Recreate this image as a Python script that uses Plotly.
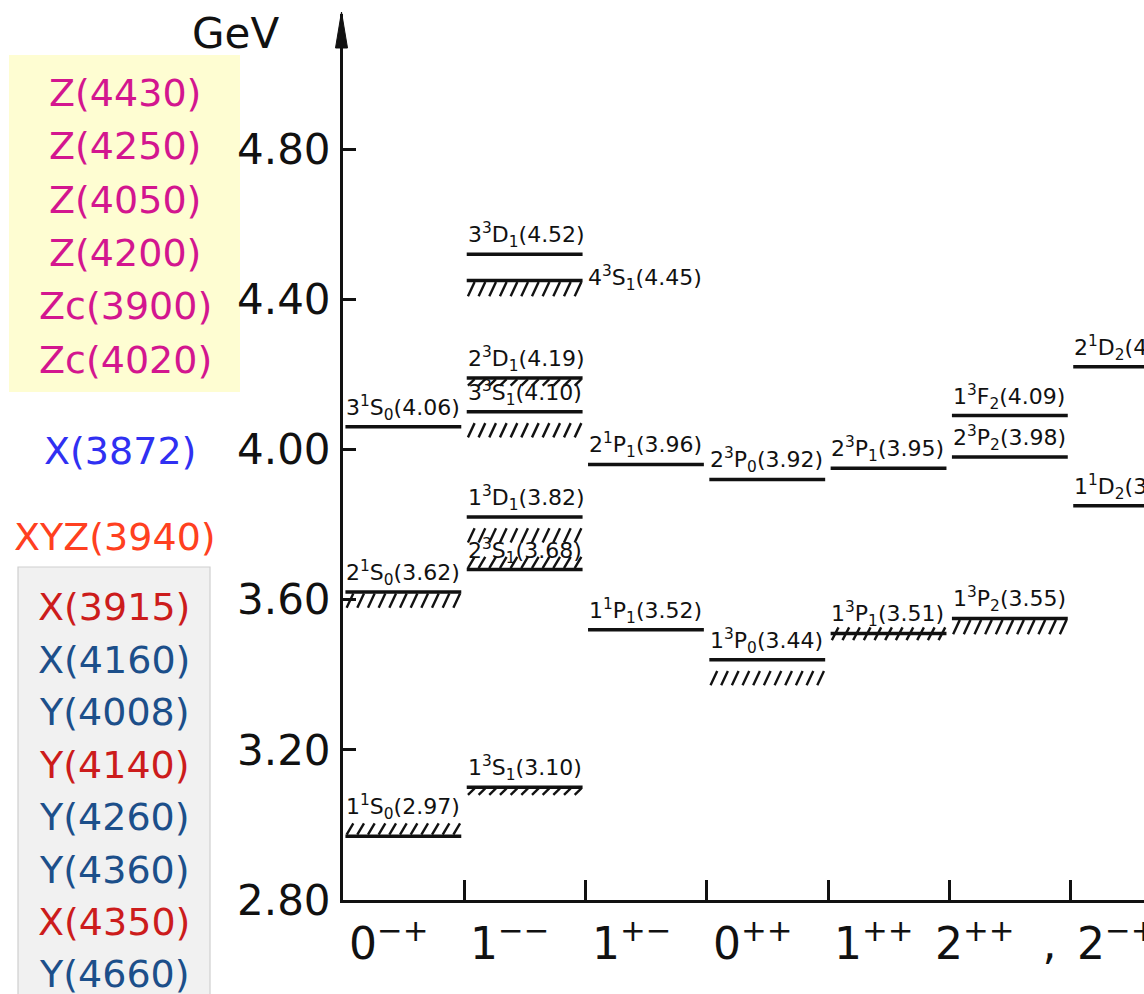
import numpy as np
import plotly.graph_objects as go

# ---------------- data ----------------
# J^PC columns of the level diagram
categories = ["0<sup>−+</sup>", "1<sup>−−</sup>", "1<sup>+−</sup>", "0<sup>++</sup>",
              "1<sup>++</sup>", "2<sup>++</sup>  ,", "2<sup>−+</sup>"]

# predicted charmonium states: column, spectroscopic name, mass (GeV)
level_col = [0, 0, 0, 1, 1, 1, 1, 1, 1, 1, 2, 2, 3, 3, 4, 4, 5, 5, 5, 6, 6]
level_name = ["1<sup>1</sup>S<sub>0</sub>", "2<sup>1</sup>S<sub>0</sub>", "3<sup>1</sup>S<sub>0</sub>",
              "1<sup>3</sup>S<sub>1</sub>", "2<sup>3</sup>S<sub>1</sub>", "1<sup>3</sup>D<sub>1</sub>",
              "3<sup>3</sup>S<sub>1</sub>", "2<sup>3</sup>D<sub>1</sub>", "4<sup>3</sup>S<sub>1</sub>",
              "3<sup>3</sup>D<sub>1</sub>",
              "1<sup>1</sup>P<sub>1</sub>", "2<sup>1</sup>P<sub>1</sub>",
              "1<sup>3</sup>P<sub>0</sub>", "2<sup>3</sup>P<sub>0</sub>",
              "1<sup>3</sup>P<sub>1</sub>", "2<sup>3</sup>P<sub>1</sub>",
              "1<sup>3</sup>P<sub>2</sub>", "2<sup>3</sup>P<sub>2</sub>", "1<sup>3</sup>F<sub>2</sub>",
              "1<sup>1</sup>D<sub>2</sub>", "2<sup>1</sup>D<sub>2</sub>"]
level_mass = [2.97, 3.62, 4.06, 3.10, 3.68, 3.82, 4.10, 4.19, 4.45, 4.52,
              3.52, 3.96, 3.44, 3.92, 3.51, 3.95, 3.55, 3.98, 4.09, 3.85, 4.22]

# y-axis ticks (GeV)
y_ticks = [2.80, 3.20, 3.60, 4.00, 4.40, 4.80]

# exotic candidates listed beside the axis
z_states = ["Z(4430)", "Z(4250)", "Z(4050)", "Z(4200)", "Zc(3900)", "Zc(4020)"]
x3872 = "X(3872)"
xyz3940 = "XYZ(3940)"
xy_states = ["X(3915)", "X(4160)", "Y(4008)", "Y(4140)", "Y(4260)", "Y(4360)", "X(4350)", "Y(4660)"]
xy_is_red = [True, False, False, True, False, False, True, False]

# ---------------- styling ----------------
# hatching drawn with measured states: index -> hatch kind
HATCH = {0: "above", 1: "below", 3: "short", 4: "above", 5: "gap", 6: "gap",
         7: "short", 8: "below", 12: "gap", 14: "cross", 16: "below"}
# states whose label sits to the right of the bar
SIDE_LABEL = {8}
# extra lift (px) for labels sitting over their hatching
LABEL_LIFT = {0: 11}
HATCH_BAND = {"below": (-0.042, -0.004), "gap": (-0.068, -0.030), "above": (0.004, 0.034),
              "cross": (-0.018, 0.016), "short": (-0.020, -0.003)}

FONT = "DejaVu Sans"
LABEL_SIZE = 22
L, T, W, H = 343, 14, 801, 886          # plot area in page pixels
PX_PER_COL = 121.3
PX_PER_GEV = 375.5
x_max = W / PX_PER_COL
y_min = y_ticks[0]
y_max = y_min + H / PX_PER_GEV


def px(x):
    return (x - L) / W


def py(y):
    return (T + H - y) / H


fig = go.Figure()

# level bars
bx, by = [], []
for c, m in zip(level_col, level_mass):
    bx += [c + 0.02, c + 0.975, None]
    by += [m, m, None]
fig.add_trace(go.Scatter(x=bx, y=by, mode="lines", line=dict(color="#111", width=3.5),
                         hoverinfo="skip", showlegend=False))

# hatching under/over measured levels
hx, hy = [], []
spacing, lean = 0.088, 0.055
for i, kind in HATCH.items():
    c, m = level_col[i], level_mass[i]
    lo, hi = HATCH_BAND[kind]
    for x0 in np.arange(c + 0.03, c + 0.975 - lean, spacing):
        hx += [x0, x0 + lean, None]
        hy += [m + lo, m + hi, None]
fig.add_trace(go.Scatter(x=hx, y=hy, mode="lines", line=dict(color="#111", width=2.4),
                         hoverinfo="skip", showlegend=False))

annotations = []
# level labels
for i, (c, name, m) in enumerate(zip(level_col, level_name, level_mass)):
    text = f"{name}({m:.2f})"
    lab_font = dict(family=FONT, size=LABEL_SIZE, color="#111")
    if i in SIDE_LABEL:
        annotations.append(dict(x=c + 1.0, y=m, xref="x", yref="y", text=text, showarrow=False,
                                xanchor="left", yanchor="middle", yshift=2, font=lab_font))
    else:
        annotations.append(dict(x=c + 0.01, y=m, xref="x", yref="y", text=text, showarrow=False,
                                xanchor="left", yanchor="bottom", yshift=LABEL_LIFT.get(i, 1),
                                font=lab_font))

# column labels below the axis
for k, cat in enumerate(categories):
    annotations.append(dict(x=k + 0.38, y=py(940), xref="x", yref="paper", text=cat,
                            showarrow=False, xanchor="center", yanchor="middle",
                            font=dict(family=FONT, size=44, color="#111")))

# axis unit
annotations.append(dict(x=px(235), y=py(33), xref="paper", yref="paper", text="GeV",
                        showarrow=False, xanchor="center", yanchor="middle",
                        font=dict(family=FONT, size=42, color="#111")))

# exotic candidates
for k, s in enumerate(z_states):
    annotations.append(dict(x=px(125), y=py(93 + 53.3 * k), xref="paper", yref="paper", text=s,
                            showarrow=False, xanchor="center", yanchor="middle",
                            font=dict(family=FONT, size=38, color="#d3168f")))
annotations.append(dict(x=px(120), y=py(451), xref="paper", yref="paper", text=x3872,
                        showarrow=False, xanchor="center", yanchor="middle",
                        font=dict(family=FONT, size=38, color="#3030f2")))
annotations.append(dict(x=px(115), y=py(537), xref="paper", yref="paper", text=xyz3940,
                        showarrow=False, xanchor="center", yanchor="middle",
                        font=dict(family=FONT, size=38, color="#ff4020")))
for k, (s, red) in enumerate(zip(xy_states, xy_is_red)):
    annotations.append(dict(x=px(114), y=py(607 + 52.5 * k), xref="paper", yref="paper", text=s,
                            showarrow=False, xanchor="center", yanchor="middle",
                            font=dict(family=FONT, size=38, color="#cc1c1c" if red else "#1c4f8a")))

shapes = [
    # yellow panel behind the Z list
    dict(type="rect", xref="paper", yref="paper", x0=px(9), x1=px(240), y0=py(392), y1=py(55),
         fillcolor="#fefdd2", line=dict(width=0), layer="below"),
    # grey panel behind the X/Y list
    dict(type="rect", xref="paper", yref="paper", x0=px(18), x1=px(210), y0=py(1000), y1=py(567),
         fillcolor="#f1f1f1", line=dict(color="#cfcfcf", width=1.2), layer="below"),
    # arrow head on the energy axis
    dict(type="path", xref="paper", yref="paper",
         path=f"M {px(335.5)},{py(48)} L {px(341.5)},{py(12)} L {px(347.5)},{py(48)} Z",
         fillcolor="#111", line=dict(color="#111", width=1)),
]

fig.update_layout(
    width=1144, height=994,
    margin=dict(l=L, r=0, t=T, b=994 - T - H),
    paper_bgcolor="white", plot_bgcolor="white",
    showlegend=False,
    annotations=annotations,
    shapes=shapes,
    xaxis=dict(range=[0, x_max], showgrid=False, zeroline=False, showline=True,
               linecolor="#111", linewidth=3, ticks="inside", ticklen=20, tickwidth=2.5,
               tickcolor="#111", tickvals=list(range(1, len(categories))), showticklabels=False,
               fixedrange=True),
    yaxis=dict(range=[y_min, y_max], showgrid=False, zeroline=False, showline=True,
               linecolor="#111", linewidth=3, ticks="inside", ticklen=13, tickwidth=3,
               tickcolor="#111", tickvals=y_ticks, ticktext=[f"{v:.2f}" for v in y_ticks],
               tickfont=dict(family=FONT, size=42, color="#111"), ticklabelstandoff=1,
               fixedrange=True),
)

fig.write_html("out.html")
